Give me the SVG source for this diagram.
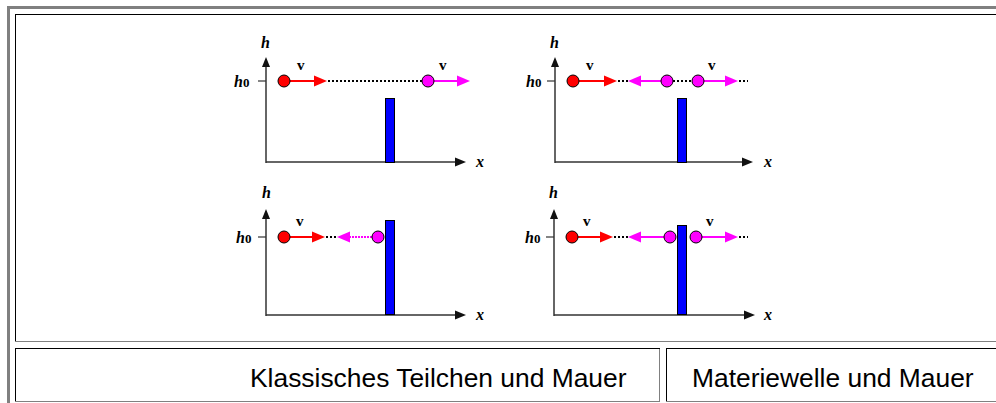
<svg xmlns="http://www.w3.org/2000/svg" width="996" height="403" viewBox="0 0 996 403">
<style>
.gray{stroke:#808080;stroke-width:1;fill:none}
.blk{stroke:#000;stroke-width:1;fill:none}
.axis{stroke:#333;stroke-width:1.5;fill:none}
.axh{fill:#111}
.tick{stroke:#333;stroke-width:1.2}
.dot{stroke:#000;stroke-width:2;stroke-dasharray:2 2;fill:none}
.red{stroke:#ff0000;stroke-width:2;fill:none}
.mag{stroke:#ff00ff;stroke-width:2;fill:none}
.magd{stroke:#ff00ff;stroke-width:2;stroke-dasharray:2 1;fill:none}
.redh{fill:#ff0000}
.magh{fill:#ff00ff}
.cr{fill:#ff0000;stroke:#000;stroke-width:1}
.cm{fill:#ff00ff;stroke:#000;stroke-width:1}
.bar{fill:#0000ff;stroke:#000;stroke-width:1}
.lab{font-family:"Liberation Serif",serif;font-weight:bold;font-style:italic;font-size:16px;fill:#000}
.v{font-family:"Liberation Serif",serif;font-weight:bold;font-size:15px;fill:#000}
.cap{font-family:"Liberation Sans",Arial,sans-serif;font-size:26.4px;fill:#000}
</style>
<rect width="996" height="403" fill="#fff"/>
<g id="table">
<rect x="7" y="6" width="989" height="3" fill="#808080"/>
<rect x="7" y="6" width="3" height="397" fill="#808080"/>
<line class="blk" x1="15" y1="14.5" x2="996" y2="14.5"/>
<line class="blk" x1="15.5" y1="14" x2="15.5" y2="342"/>
<line class="gray" x1="15" y1="341.5" x2="996" y2="341.5"/>
<line class="blk" x1="15" y1="348.5" x2="660" y2="348.5"/>
<line class="blk" x1="15.5" y1="348" x2="15.5" y2="402"/>
<line class="gray" x1="659.5" y1="349" x2="659.5" y2="402"/>
<line class="gray" x1="15" y1="401.5" x2="660" y2="401.5"/>
<line class="blk" x1="666" y1="348.5" x2="996" y2="348.5"/>
<line class="blk" x1="666.5" y1="348" x2="666.5" y2="402"/>
<line class="gray" x1="666" y1="401.5" x2="996" y2="401.5"/>
</g>
<g id="cap1"><text class="cap" x="250" y="387">Klassisches Teilchen und Mauer</text></g>
<g id="cap2"><text class="cap" x="692" y="387">Materiewelle und Mauer</text></g>

<g id="panel1">
<line class="axis" x1="266" y1="163" x2="266" y2="66"/>
<polygon class="axh" points="266,57 262,67 270,67"/>
<line class="axis" x1="266" y1="162" x2="456" y2="162"/>
<polygon class="axh" points="466,162 455,157.5 455,166.5"/>
<line class="tick" x1="258" y1="81" x2="266" y2="81"/>
<text class="lab" x="261" y="48">h</text>
<text class="lab" x="234" y="87">h<tspan font-style="normal" font-size="13">0</tspan></text>
<text class="lab" x="476" y="167">x</text>
<rect class="bar" x="385.5" y="98.5" width="9" height="64"/>
</g>
<g id="panel2">
<line class="axis" x1="555" y1="163" x2="555" y2="66"/>
<polygon class="axh" points="555,57 551,67 559,67"/>
<line class="axis" x1="555" y1="162" x2="743" y2="162"/>
<polygon class="axh" points="753,162 742,157.5 742,166.5"/>
<line class="tick" x1="547" y1="81" x2="555" y2="81"/>
<text class="lab" x="550" y="48">h</text>
<text class="lab" x="526" y="87">h<tspan font-style="normal" font-size="13">0</tspan></text>
<text class="lab" x="764" y="167">x</text>
<rect class="bar" x="677.5" y="98.5" width="9" height="64"/>
</g>
<g id="panel3">
<line class="axis" x1="266" y1="316" x2="266" y2="218"/>
<polygon class="axh" points="266,209 262,219 270,219"/>
<line class="axis" x1="266" y1="315" x2="456" y2="315"/>
<polygon class="axh" points="466,315 455,310.5 455,319.5"/>
<line class="tick" x1="258" y1="237" x2="266" y2="237"/>
<text class="lab" x="262" y="198">h</text>
<text class="lab" x="236" y="243">h<tspan font-style="normal" font-size="13">0</tspan></text>
<text class="lab" x="476" y="320">x</text>
<rect class="bar" x="385.5" y="220.5" width="9" height="94"/>
</g>
<g id="panel4">
<line class="axis" x1="554" y1="316" x2="554" y2="218"/>
<polygon class="axh" points="554,209 550,219 558,219"/>
<line class="axis" x1="554" y1="315" x2="745" y2="315"/>
<polygon class="axh" points="755,315 744,310.5 744,319.5"/>
<line class="tick" x1="546" y1="237" x2="554" y2="237"/>
<text class="lab" x="549" y="198">h</text>
<text class="lab" x="525" y="243">h<tspan font-style="normal" font-size="13">0</tspan></text>
<text class="lab" x="764" y="320">x</text>
</g>

<g id="connectors">
<line class="red" x1="290" y1="81" x2="314" y2="81"/>
<polygon class="redh" points="327,81 314,75.5 314,86.5"/>
<line class="dot" x1="328" y1="81" x2="422" y2="81"/>
<line class="mag" x1="434" y1="81" x2="458" y2="81"/>
<polygon class="magh" points="470,81 457,75.5 457,86.5"/>
<line class="red" x1="579" y1="81" x2="605" y2="81"/>
<polygon class="redh" points="617,81 604,75.5 604,86.5"/>
<line class="dot" x1="618" y1="81" x2="628" y2="81"/>
<polygon class="magh" points="628,81 641,75.5 641,86.5"/>
<line class="mag" x1="640" y1="81" x2="661" y2="81"/>
<line class="dot" x1="673" y1="81" x2="692" y2="81"/>
<line class="mag" x1="704" y1="81" x2="726" y2="81"/>
<polygon class="magh" points="738,81 725,75.5 725,86.5"/>
<line class="dot" x1="739" y1="81" x2="748" y2="81"/>
<line class="red" x1="290" y1="237" x2="312" y2="237"/>
<polygon class="redh" points="325,237 312,231.5 312,242.5"/>
<line class="dot" x1="326" y1="237" x2="338" y2="237"/>
<polygon class="magh" points="337,237 350,231.5 350,242.5"/>
<line class="magd" x1="349" y1="237" x2="372" y2="237"/>
<line class="red" x1="578" y1="237" x2="600" y2="237"/>
<polygon class="redh" points="613,237 600,231.5 600,242.5"/>
<line class="dot" x1="614" y1="237" x2="628" y2="237"/>
<polygon class="magh" points="628,237 641,231.5 641,242.5"/>
<line class="mag" x1="640" y1="237" x2="664" y2="237"/>
<line class="mag" x1="702" y1="237" x2="726" y2="237"/>
<polygon class="magh" points="738,237 725,231.5 725,242.5"/>
<line class="dot" x1="739" y1="237" x2="748" y2="237"/>
</g>

<g id="particles">
<circle class="cr" cx="284" cy="81" r="6"/>
<circle class="cm" cx="428" cy="81" r="6"/>
<circle class="cr" cx="573" cy="81" r="6"/>
<circle class="cm" cx="667" cy="81" r="6"/>
<circle class="cm" cx="698" cy="81" r="6"/>
<circle class="cr" cx="284" cy="237" r="6"/>
<circle class="cm" cx="378" cy="237" r="6"/>
<circle class="cr" cx="572" cy="237" r="6"/>
<circle class="cm" cx="670" cy="237" r="6"/>
<rect class="bar" x="677.5" y="225.5" width="9" height="89"/>
<circle class="cm" cx="696" cy="237" r="6"/>
</g>
<g id="vlabels">
<text class="v" x="297" y="70">v</text>
<text class="v" x="439" y="70">v</text>
<text class="v" x="586" y="70">v</text>
<text class="v" x="708" y="70">v</text>
<text class="v" x="296" y="226">v</text>
<text class="v" x="583" y="226">v</text>
<text class="v" x="706" y="226">v</text>
</g>
</svg>
